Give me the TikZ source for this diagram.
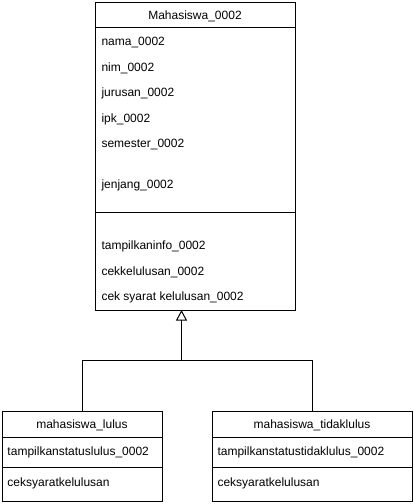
\documentclass[tikz,border=0pt]{standalone}
\usepackage{fontspec}
\setmainfont{Liberation Sans}
\usetikzlibrary{arrows.meta}
\begin{document}
\begin{tikzpicture}[x=1pt,y=-1pt,line width=1pt,
  box/.style={draw,rectangle,inner sep=0pt,anchor=north west},
  lbl/.style={anchor=base west,inner sep=0pt,font=\fontsize{12}{14}\selectfont},
  ttl/.style={anchor=base,inner sep=0pt,font=\fontsize{12}{14}\selectfont}]
\useasboundingbox (0,0) rectangle (414,504);
% main class
\node[box,minimum width=200pt,minimum height=308pt] (main) at (95,2) {};
\draw (95,27.8) -- (295,27.8);
\draw (95,212) -- (295,212);
\node[ttl] (mt) at (195,19) {Mahasiswa\_0002};
\node[lbl] (a1) at (101,45.5) {nama\_0002};
\node[lbl] (a2) at (101,71) {nim\_0002};
\node[lbl] (a3) at (101,96.5) {jurusan\_0002};
\node[lbl] (a4) at (101,122) {ipk\_0002};
\node[lbl] (a5) at (101,147.5) {semester\_0002};
\node[lbl] (a6) at (101,188.3) {jenjang\_0002};
\node[lbl] (m1) at (101,249.3) {tampilkaninfo\_0002};
\node[lbl] (m2) at (101,275.5) {cekkelulusan\_0002};
\node[lbl] (m3) at (101,300.7) {cek syarat kelulusan\_0002};
% left class
\node[box,minimum width=160pt,minimum height=90pt] (l) at (2,411) {};
\draw (2,437.3) -- (162,437.3);
\draw (2,467.7) -- (162,467.7);
\node[ttl] (lt) at (82,428.3) {mahasiswa\_lulus};
\node[lbl] (l1) at (7,455) {tampilkanstatuslulus\_0002};
\node[lbl] (l2) at (7,486) {ceksyaratkelulusan};
% right class
\node[box,minimum width=200pt,minimum height=90pt] (r) at (212,411) {};
\draw (212,437.3) -- (412,437.3);
\draw (212,467.7) -- (412,467.7);
\node[ttl] (rt) at (312,428.3) {mahasiswa\_tidaklulus};
\node[lbl] (r1) at (217,455) {tampilkanstatustidaklulus\_0002};
\node[lbl] (r2) at (217,486) {ceksyaratkelulusan};
% generalization
\coordinate (tip) at (181.5,310);
\coordinate (j) at (181.5,360.5);
\draw (l.north) |- (j);
\draw (r.north) |- (j);
\draw[-{Triangle[open,length=10.5pt,width=11pt]}] (j) -- (tip);
\end{tikzpicture}
\end{document}
